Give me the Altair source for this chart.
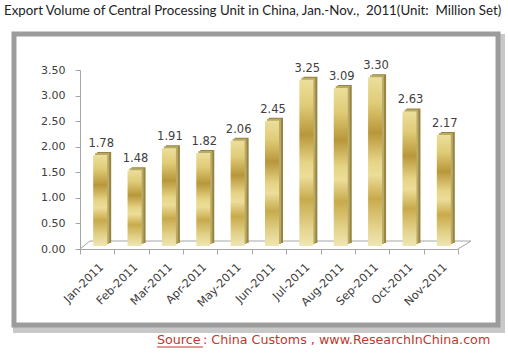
import altair as alt
import pandas as pd

months = ["Jan-2011", "Feb-2011", "Mar-2011", "Apr-2011", "May-2011", "Jun-2011",
          "Jul-2011", "Aug-2011", "Sep-2011", "Oct-2011", "Nov-2011"]
values = [1.78, 1.48, 1.91, 1.82, 2.06, 2.45, 3.25, 3.09, 3.30, 2.63, 2.17]
y_ticks = [0, 0.5, 1.0, 1.5, 2.0, 2.5, 3.0, 3.5]

title_text = "Export Volume of Central Processing Unit in China, Jan.-Nov.,\u00a0 2011(Unit:\u00a0 Million Set)"
source_word = "Source"
source_rest = ": China Customs , www.ResearchInChina.com"

df = pd.DataFrame({"month": months, "value": values})

W, H = 378, 179
PAD = {"left": 80, "top": 70, "right": 50, "bottom": 106}

xs = alt.X("month:N", sort=months,
           scale=alt.Scale(paddingInner=0, paddingOuter=0),
           axis=alt.Axis(title=None, labelAngle=-45, tickBand="extent", zindex=1,
                         domainColor="#a6a6a6", tickColor="#a6a6a6", tickSize=5,
                         labelFont="DejaVu Sans", labelFontSize=11.3, labelColor="#404040",
                         labelPadding=7))
ys = alt.Y("value:Q", scale=alt.Scale(domain=[0, 3.5], nice=False),
           axis=alt.Axis(title=None, values=y_ticks, format=".2f", grid=False, zindex=1,
                         domainColor="#a6a6a6", tickColor="#a6a6a6", tickSize=5,
                         labelFont="DejaVu Sans", labelFontSize=11, labelColor="#404040",
                         labelPadding=10))

base = alt.Chart(df)
one = pd.DataFrame({"a": [0]})

# frame with shadow
frame_shadow = alt.Chart(one).mark_rect(
    fill="#ffffff", stroke="#c8c8c8", strokeWidth=6
).encode(x=alt.value(-64), x2=alt.value(422), y=alt.value(-33), y2=alt.value(260))
frame = alt.Chart(one).mark_rect(
    fill="#ffffff", stroke="#9c9c9c", strokeWidth=5
).encode(x=alt.value(-66), x2=alt.value(418), y=alt.value(-36), y2=alt.value(255))

# 3D floor
floor_back = alt.Chart(one).mark_rule(color="#a6a6a6").encode(
    x=alt.value(10), x2=alt.value(391), y=alt.value(171), y2=alt.value(171))
floor_left = alt.Chart(one).mark_rule(color="#a6a6a6").encode(
    x=alt.value(0), x2=alt.value(10), y=alt.value(179), y2=alt.value(171))
floor_right = alt.Chart(one).mark_rule(color="#a6a6a6").encode(
    x=alt.value(378), x2=alt.value(391), y=alt.value(179), y2=alt.value(171))

side = base.mark_bar(width=14, xOffset=7, yOffset=-6, color="#97853f").encode(x=xs, y=ys)
top = base.mark_bar(width=14, xOffset=5, yOffset=-5, color="#b9aa68").encode(x=xs, y=ys)

gold = alt.Gradient(
    gradient="linear", x1=0, y1=0, x2=0, y2=1,
    stops=[alt.GradientStop(color="#ecdf9c", offset=0.0),
           alt.GradientStop(color="#e0cc78", offset=0.15),
           alt.GradientStop(color="#b8973a", offset=0.33),
           alt.GradientStop(color="#e6d486", offset=0.5),
           alt.GradientStop(color="#ecdd98", offset=0.58),
           alt.GradientStop(color="#c8aa4c", offset=0.72),
           alt.GradientStop(color="#e2d188", offset=0.88),
           alt.GradientStop(color="#f0e6b4", offset=1.0)])
front = base.mark_bar(width=14, xOffset=3, yOffset=-3, color=gold).encode(x=xs, y=ys)

labels = base.mark_text(font="DejaVu Sans", fontSize=11.5, color="#404040",
                        baseline="bottom", dx=4, dy=-9).encode(
    x=xs, y=ys, text=alt.Text("value:Q", format=".2f"))

title_mark = alt.Chart(one).mark_text(
    text=title_text, font="Lato", fontSize=13.3, color="#222222", align="left",
    baseline="middle").encode(x=alt.value(-76), y=alt.value(-59))

src1 = alt.Chart(one).mark_text(
    text=source_word, font="DejaVu Sans", fontSize=12.7, color="#c0392b", align="left",
    baseline="middle").encode(x=alt.value(77), y=alt.value(270))
src2 = alt.Chart(one).mark_text(
    text=source_rest, font="DejaVu Sans", fontSize=12.7, color="#c0392b", align="left",
    baseline="middle").encode(x=alt.value(123), y=alt.value(270))
underline = alt.Chart(one).mark_rule(color="#c0392b").encode(
    x=alt.value(77), x2=alt.value(123), y=alt.value(277), y2=alt.value(277))

chart = alt.layer(
    frame_shadow, frame, floor_back, floor_left, floor_right,
    side, top, front, labels, title_mark, src1, src2, underline
).properties(
    width=W, height=H, padding=PAD, autosize=alt.AutoSizeParams(type="none"),
    background="#ffffff"
).configure_view(stroke=None)

chart.save("out.html", embed_options={"renderer": "svg", "actions": False})
